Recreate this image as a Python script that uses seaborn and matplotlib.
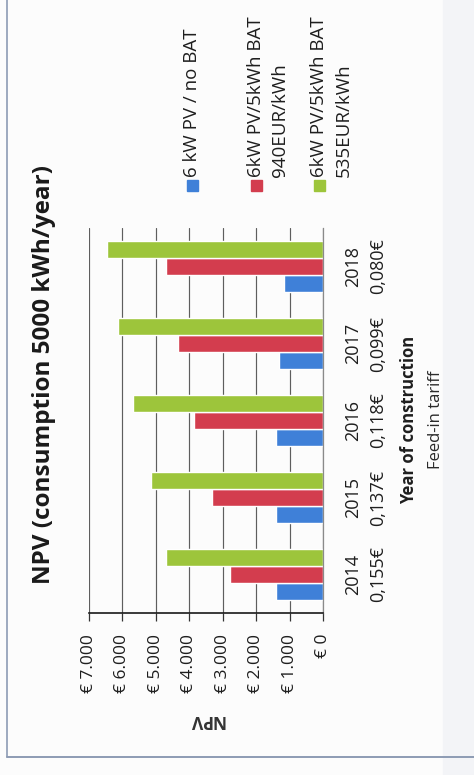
import matplotlib
matplotlib.use("Agg")
import matplotlib.pyplot as plt
import seaborn as sns
import pandas as pd
from matplotlib.patches import Rectangle
from matplotlib.lines import Line2D

# ---- data -------------------------------------------------------------
years = ["2014", "2015", "2016", "2017", "2018"]
tariffs = ["0,155€", "0,137€", "0,118€", "0,099€", "0,080€"]
series = [
    "6 kW PV / no BAT",
    "6kW PV/5kWh BAT\n940EUR/kWh",
    "6kW PV/5kWh BAT\n535EUR/kWh",
]
npv_no_bat = [1400, 1400, 1400, 1310, 1160]
npv_bat_940 = [2780, 3310, 3850, 4330, 4690]
npv_bat_535 = [4690, 5160, 5670, 6120, 6450]
npv_ticks = [0, 1000, 2000, 3000, 4000, 5000, 6000, 7000]
npv_tick_labels = ["€ 0", "€ 1.000", "€ 2.000", "€ 3.000",
                   "€ 4.000", "€ 5.000", "€ 6.000", "€ 7.000"]
title = "NPV (consumption 5000 kWh/year)"
colors = ["#3f80d8", "#d33d4e", "#9dc53b"]

df = pd.DataFrame({
    "year": years * 3,
    "npv": npv_no_bat + npv_bat_940 + npv_bat_535,
    "series": [s for s in series for _ in years],
})

# ---- figure -------------------------------------------------------------
W, H = 474, 775
sns.set_style("white")
plt.rcParams["font.family"] = ["Open Sans", "DejaVu Sans"]

fig = plt.figure(figsize=(W / 100, H / 100), dpi=100)
fig.patch.set_facecolor("#fcfcfc")


def fx(px):
    return px / W


def fy(py):
    return 1 - py / H


# page backdrop: light strip on the right and the frame of the chart box
fig.patches.append(Rectangle((fx(443), 0), 1 - fx(443), 1, transform=fig.transFigure,
                             color="#f3f4f7", zorder=0))
fig.lines.append(Line2D([fx(7), fx(7)], [fy(0), fy(757)], transform=fig.transFigure,
                        color="#8d9bb4", lw=1.2))
fig.lines.append(Line2D([fx(7), 1], [fy(757), fy(757)], transform=fig.transFigure,
                        color="#8d9bb4", lw=1.4))

# chart drawn on its side: value axis runs right-to-left, years bottom-to-top
ax = fig.add_axes([fx(89), fy(613), fx(323) - fx(89), fy(228) - fy(613)])
ax.set_facecolor("none")
sns.barplot(data=df, x="npv", y="year", hue="series", orient="h",
            order=years, hue_order=series, palette=colors, saturation=1,
            width=0.65, legend=False, ax=ax)

ax.set_xlim(7000, 0)
ax.set_ylim(-0.5, len(years) - 0.5)

ax.set_xticks(npv_ticks)
ax.set_xticklabels(npv_tick_labels, rotation=90, ha="center", va="top",
                   fontsize=12.5, color="#1e1e1e")
ax.tick_params(axis="x", direction="out", length=6, width=0.9, color="#333333", pad=9,
               bottom=True)
ax.xaxis.grid(True, color="#5e5e5e", lw=0.85)
ax.set_axisbelow(True)

ax.yaxis.tick_right()
ax.set_yticks(range(len(years)))
ax.set_yticklabels([f"{y}\n{t}" for y, t in zip(years, tariffs)])
ax.tick_params(axis="y", length=0, pad=15, labelsize=13, labelcolor="#1e1e1e")
for lab in ax.get_yticklabels():
    lab.set_rotation(90)
    lab.set_ha("left")
    lab.set_va("center")
    lab.set_multialignment("center")
    lab.set_linespacing(1.55)

for side in ["top", "left"]:
    ax.spines[side].set_visible(False)
ax.spines["bottom"].set_color("#1a1a1a")
ax.spines["bottom"].set_linewidth(1.2)
ax.spines["right"].set_color("#8a8a8a")
ax.spines["right"].set_linewidth(0.9)

ax.set_xlabel("NPV", rotation=180, fontsize=12.5, fontweight="bold",
              color="#333333", labelpad=13)
ax.set_ylabel("")

# category axis titles
fig.text(fx(409), fy(420), "Year of construction", rotation=90, ha="center",
         va="center", fontsize=12, fontweight="bold", color="#1e1e1e")
fig.text(fx(436), fy(420), "Feed-in tariff", rotation=90, ha="center",
         va="center", fontsize=12, color="#2a2a2a")

# title
fig.text(fx(44), fy(375), title, rotation=90, ha="center", va="center",
         fontsize=17.5, fontweight="bold", color="#1a1a1a")

# legend, laid out sideways like the chart
legend_x = [192, 256, 319]
for xc, lab, col in zip(legend_x, series, colors):
    fig.patches.append(Rectangle((fx(xc - 5.5), fy(191)), 11 / W, 11 / H,
                                 transform=fig.transFigure, color=col))
    fig.text(fx(xc - 9), fy(177), lab, rotation=90, ha="left", va="bottom",
             multialignment="left", fontsize=13.5, linespacing=1.45, color="#1e1e1e")

fig.savefig("out.png", dpi=100)
